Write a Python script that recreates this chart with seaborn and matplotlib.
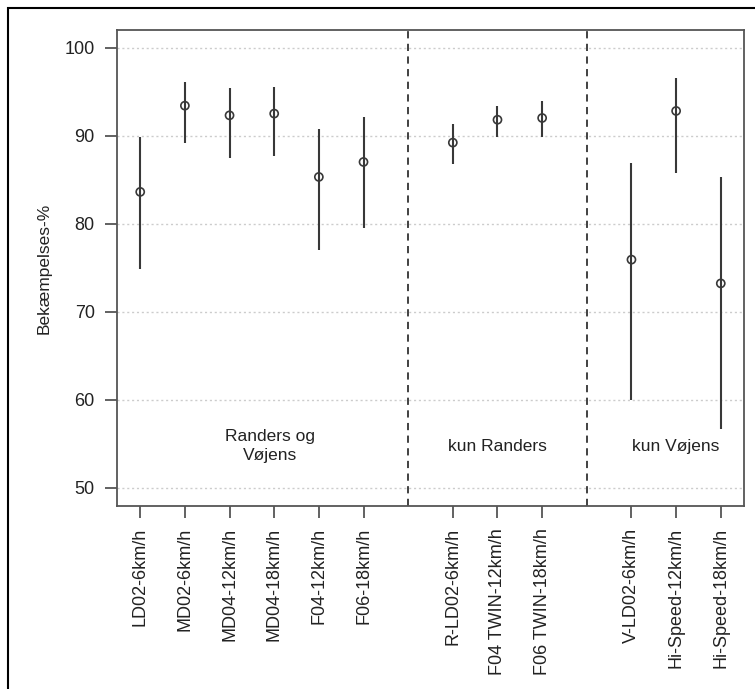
import matplotlib
matplotlib.use("Agg")
import matplotlib.pyplot as plt
import seaborn as sns
import numpy as np
import pandas as pd
from matplotlib.patches import Rectangle

# ---- data ----
group_names = ["Randers og\nVøjens", "kun Randers", "kun Vøjens"]
group_sizes = [6, 3, 3]
labels = ["LD02-6km/h", "MD02-6km/h", "MD04-12km/h", "MD04-18km/h", "F04-12km/h", "F06-18km/h",
          "R-LD02-6km/h", "F04 TWIN-12km/h", "F06 TWIN-18km/h",
          "V-LD02-6km/h", "Hi-Speed-12km/h", "Hi-Speed-18km/h"]
means = [83.6, 93.4, 92.3, 92.5, 85.3, 87.0, 89.2, 91.8, 92.0, 75.9, 92.8, 73.2]
lower = [74.8, 89.2, 87.4, 87.7, 77.0, 79.5, 86.8, 89.8, 89.8, 60.0, 85.8, 56.6]
upper = [89.8, 96.1, 95.4, 95.5, 90.7, 92.1, 91.3, 93.4, 93.9, 86.9, 96.5, 85.3]
yticks = [50, 60, 70, 80, 90, 100]

# positions: groups separated by one empty slot
pos = []
seps = []
centers = []
p = 1
for gi, n in enumerate(group_sizes):
    grp = list(range(p, p + n))
    pos += grp
    centers.append(np.mean(grp))
    p += n
    if gi < len(group_sizes) - 1:
        seps.append(p)
        p += 1

df = pd.DataFrame({"pos": pos, "mean": means, "lo": lower, "hi": upper, "label": labels})

sns.set_theme(style="white")
plt.rcParams["font.family"] = ["Liberation Sans", "DejaVu Sans"]

fig = plt.figure(figsize=(7.55, 6.89), dpi=100)
ax = fig.add_axes([117/755, 1 - 506/689, (744-117)/755, (506-30)/689])

line_col = "#383838"
ax.vlines(df["pos"], df["lo"], df["hi"], color=line_col, lw=1.5, zorder=3)
sns.scatterplot(data=df, x="pos", y="mean", ax=ax, marker="o", s=34,
                facecolor="none", edgecolor=line_col, linewidth=1.2, zorder=4)

for yv in yticks:
    ax.axhline(yv, color="#cccccc", lw=1.0, ls=(0, (1.5, 2)), zorder=1)
for s in seps:
    ax.axvline(s, color="#333333", lw=1.3, ls=(0, (4, 3)), zorder=2)

text_y = 54.7
centers_txt = [3.9, centers[1], centers[2]]
for c, t in zip(centers_txt, group_names):
    ax.text(c, text_y, t, ha="center", va="center", fontsize=12.5, color="#222222",
            linespacing=1.35)

ax.set_xlim(0.48, 14.52)
ax.set_ylim(47.9, 102.0)
ax.set_xticks(pos)
ax.set_xticklabels(labels, rotation=90, fontsize=13, color="#222222")
ax.set_yticks(yticks)
ax.set_yticklabels([str(v) for v in yticks], fontsize=13, color="#222222")
ax.tick_params(axis="both", which="both", direction="out", length=8.5, width=1.3,
               color="#555555", pad=7.5, left=True, bottom=True)
ax.set_xlabel("")
ax.set_ylabel("Bekæmpelses-%", fontsize=12.5, color="#222222", labelpad=9)
for sp in ax.spines.values():
    sp.set_color("#555555")
    sp.set_linewidth(1.3)
    sp.set_visible(True)

# outer frame (cropped at right and bottom)
fig.patches.append(Rectangle((8/755, -0.1), 1.2, 1 - 8/689 + 0.1, transform=fig.transFigure,
                             fill=False, edgecolor="black", lw=1.5, zorder=0))

fig.savefig("out.png", dpi=100, facecolor="white")
